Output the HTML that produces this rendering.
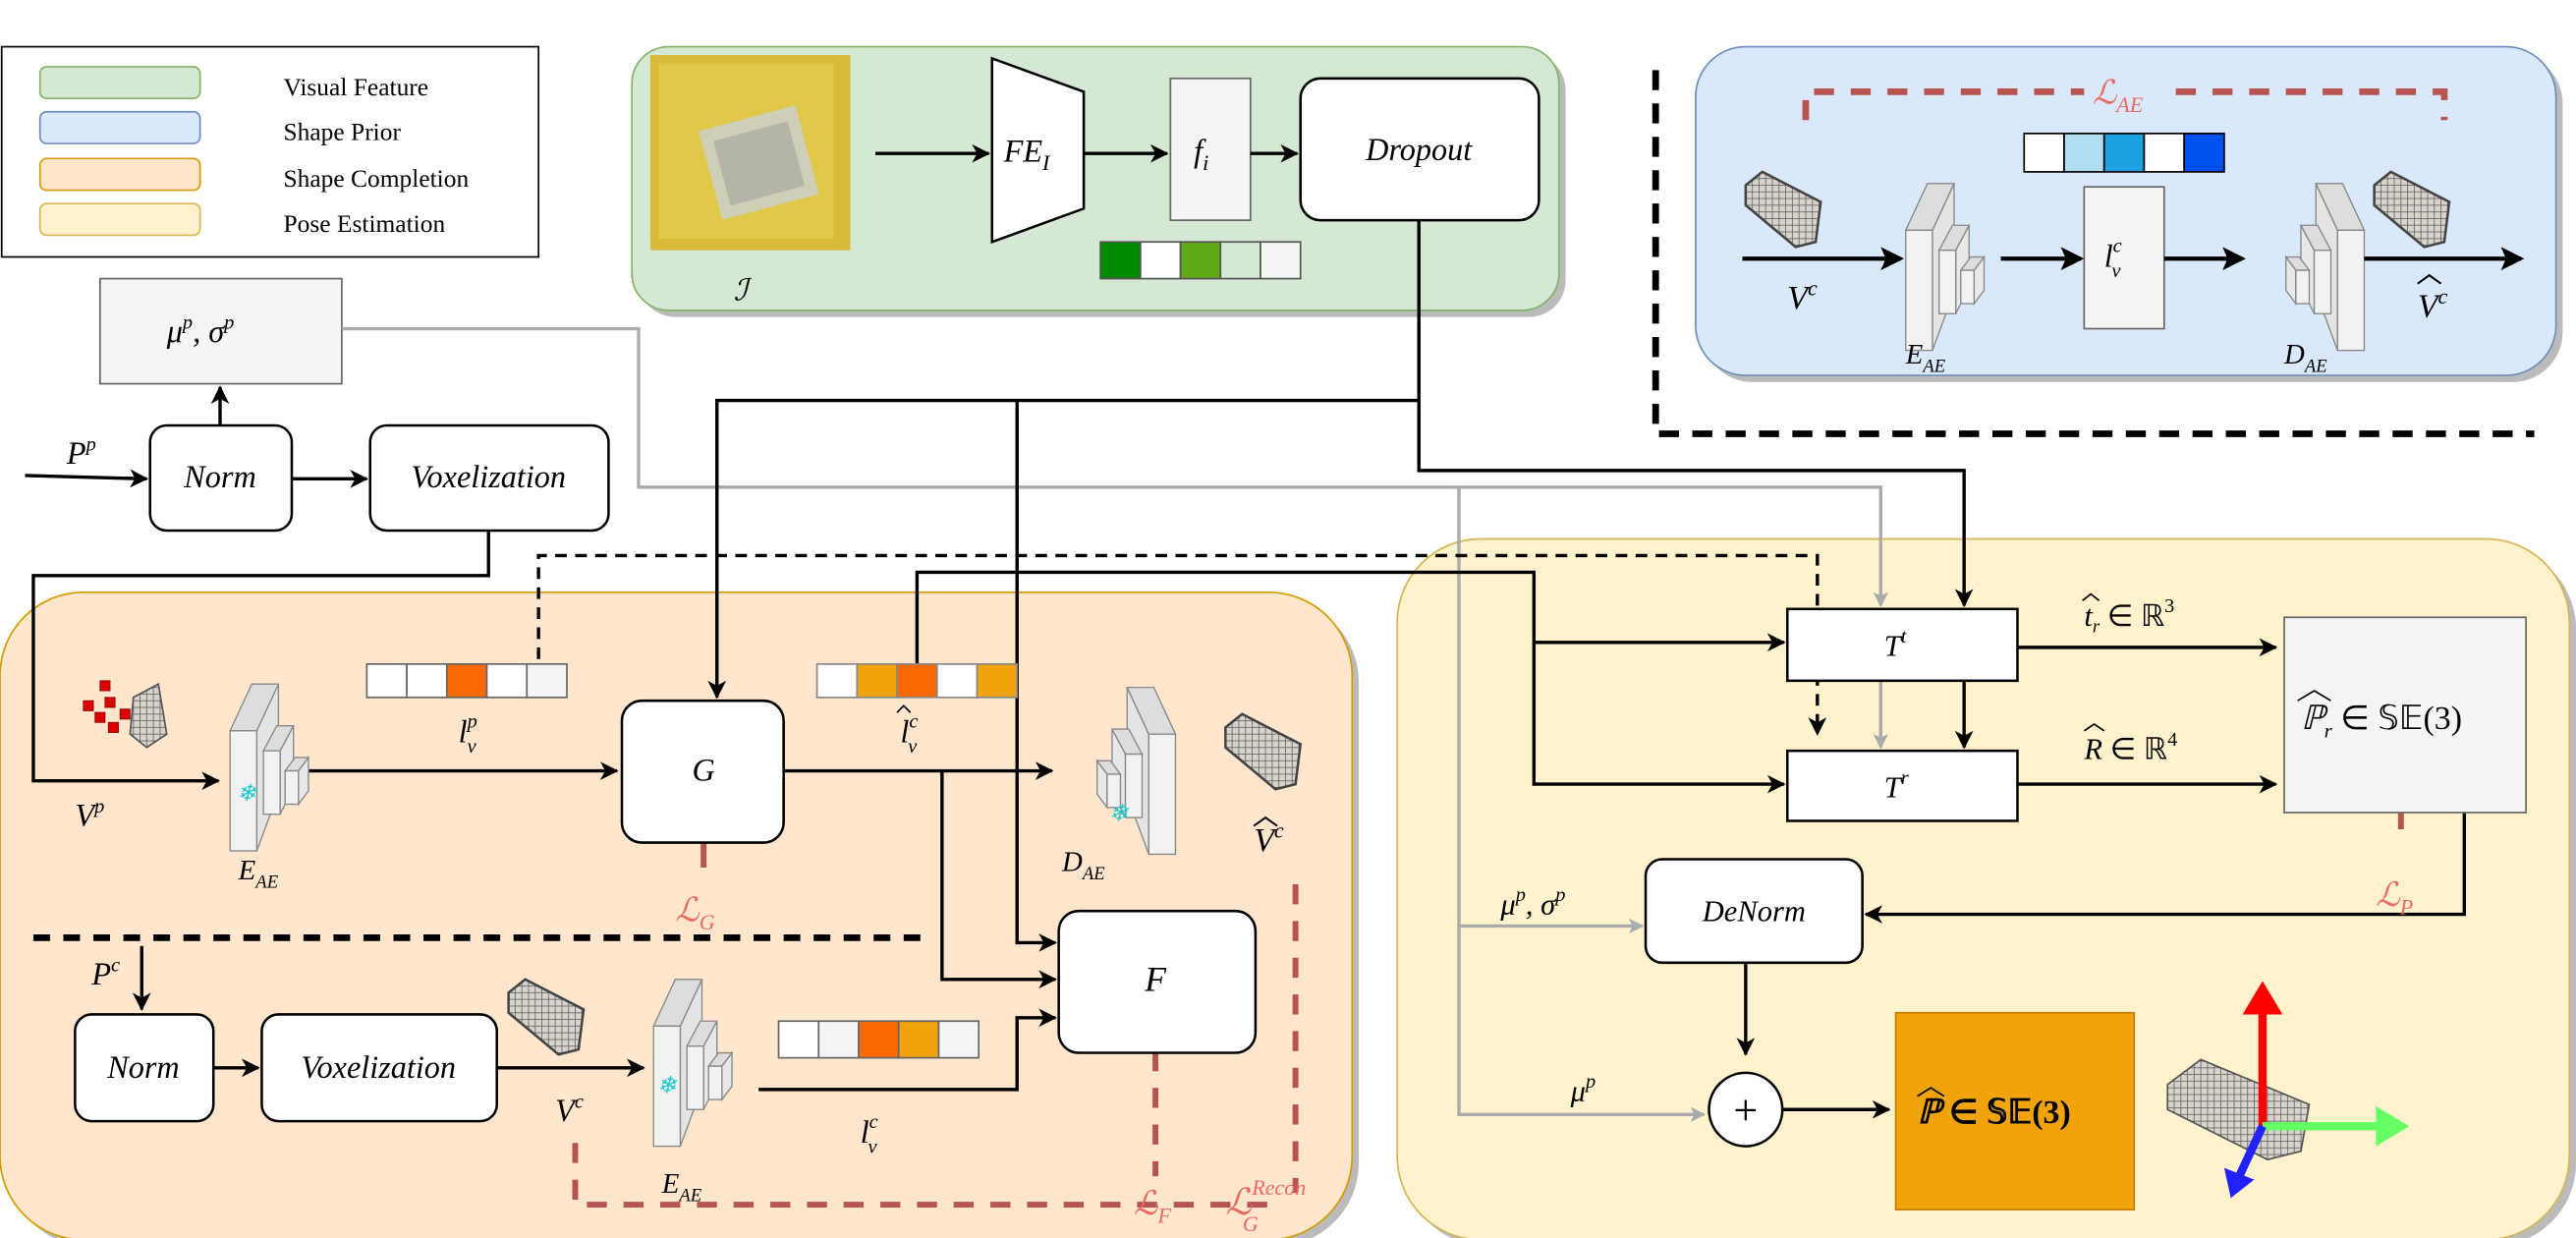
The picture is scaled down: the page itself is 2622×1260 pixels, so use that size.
<!DOCTYPE html>
<html><head><meta charset="utf-8"><style>
html,body{margin:0;padding:0;background:#fff}
svg{display:block}
text{font-family:"Liberation Serif",serif;font-style:italic}
.s{font-style:normal;font-family:"Liberation Serif",serif}
</style></head><body>
<svg width="2622" height="1260" viewBox="0 0 1545 742" preserveAspectRatio="none" xmlns="http://www.w3.org/2000/svg">
<defs>
<marker id="a" markerWidth="11" markerHeight="11" refX="10" refY="5.5" orient="auto" markerUnits="userSpaceOnUse"><path d="M0,0 L11,5.5 L0,11 L3,5.5z" fill="#000"/></marker>
<marker id="ag" markerWidth="9" markerHeight="9" refX="8" refY="4.5" orient="auto" markerUnits="userSpaceOnUse"><path d="M0,0 L9,4.5 L0,9 L2,4.5z" fill="#aaa"/></marker>
<marker id="ab" markerWidth="14" markerHeight="14" refX="12" refY="7" orient="auto" markerUnits="userSpaceOnUse"><path d="M0,0 L14,7 L0,14 L3,7z" fill="#000"/></marker>
<pattern id="vx" width="4" height="4" patternUnits="userSpaceOnUse"><rect width="4" height="4" fill="#d8d4cc" stroke="#666" stroke-width="0.5"/></pattern>
<g id="enc">
<polygon points="16,28 29,0 29,65 16,100" fill="#e4e4e4" stroke="#888" stroke-width="0.8"/>
<polygon points="0,28 13,0 29,0 16,28" fill="#ddd" stroke="#888" stroke-width="0.8"/>
<rect x="0" y="28" width="16" height="72" fill="#f2f2f2" stroke="#888" stroke-width="0.8"/>
<polygon points="30,40 38,25 38,62 30,78" fill="#e8e8e8" stroke="#888" stroke-width="0.8"/>
<polygon points="20,40 28,25 38,25 30,40" fill="#ddd" stroke="#888" stroke-width="0.8"/>
<rect x="20" y="40" width="10" height="38" fill="#f2f2f2" stroke="#888" stroke-width="0.8"/>
<polygon points="41,52 47,44 47,64 41,72" fill="#e8e8e8" stroke="#888" stroke-width="0.8"/>
<polygon points="33,52 39,44 47,44 41,52" fill="#ddd" stroke="#888" stroke-width="0.8"/>
<rect x="33" y="52" width="8" height="20" fill="#f2f2f2" stroke="#888" stroke-width="0.8"/>
</g>
<g id="vox"><polygon points="0,8 10,0 45,18 42,42 30,45 0,20" fill="url(#vx)" stroke="#444" stroke-width="1.5"/></g>
</defs>

<rect x="1" y="28" width="322" height="126" fill="#fff" stroke="#000"/>
<rect x="24" y="40" width="96" height="19" rx="4" fill="#d5e8d4" stroke="#82b366"/>
<rect x="24" y="67" width="96" height="19" rx="4" fill="#dae8fc" stroke="#6c8ebf"/>
<rect x="24" y="95" width="96" height="19" rx="4" fill="#ffe6cc" stroke="#d79b00"/>
<rect x="24" y="122" width="96" height="19" rx="4" fill="#fff2cc" stroke="#d6b656"/>
<g font-size="15"><text x="170" y="57" class="s">Visual Feature</text><text x="170" y="84" class="s">Shape Prior</text><text x="170" y="112" class="s">Shape Completion</text><text x="170" y="139" class="s">Pose Estimation</text></g>

<rect x="383" y="32" width="556" height="158" rx="22" fill="#bbb"/>
<rect x="379" y="28" width="556" height="158" rx="22" fill="#d5e8d4" stroke="#82b366"/>
<rect x="1021" y="32" width="516" height="197" rx="30" fill="#bbb"/>
<rect x="1017" y="28" width="516" height="197" rx="30" fill="#dae8fc" stroke="#6c8ebf"/>
<rect x="4" y="359" width="811" height="388" rx="50" fill="#bbb"/>
<rect x="0" y="355" width="811" height="388" rx="50" fill="#ffe6cc" stroke="#d79b00"/>
<rect x="842" y="327" width="703" height="420" rx="50" fill="#bbb"/>
<rect x="838" y="323" width="703" height="420" rx="50" fill="#fff2cc" stroke="#d6b656"/>

<path d="M993,42 V260 H1520" fill="none" stroke="#000" stroke-width="4" stroke-dasharray="12,8"/>

<rect x="390" y="33" width="120" height="117" fill="#d9bb3c"/>
<rect x="395" y="38" width="105" height="105" fill="#e0c848"/>
<rect x="425" y="70" width="60" height="55" fill="#cfcfb8" transform="rotate(-15 455 97)"/>
<rect x="432" y="78" width="46" height="40" fill="#999" opacity="0.5" transform="rotate(-15 455 97)"/>
<text x="440" y="180" font-size="18">ℐ</text>
<line x1="525" y1="92" x2="593" y2="92" stroke="#000" stroke-width="2" marker-end="url(#a)"/>
<polygon points="595,35 650,55 650,125 595,145" fill="#fff" stroke="#000" stroke-width="1.5"/>
<text x="602" y="97" font-size="19">FE<tspan font-size="13" dy="5">I</tspan></text>
<line x1="650" y1="92" x2="700" y2="92" stroke="#000" stroke-width="2" marker-end="url(#a)"/>
<rect x="702" y="47" width="48" height="85" fill="#f5f5f5" stroke="#666"/>
<text x="716" y="97" font-size="19">f<tspan font-size="13" dy="5">i</tspan></text>
<line x1="750" y1="92" x2="778" y2="92" stroke="#000" stroke-width="2" marker-end="url(#a)"/>
<rect x="780" y="47" width="143" height="85" rx="12" fill="#fff" stroke="#000" stroke-width="1.5"/>
<text x="851" y="96" font-size="19" text-anchor="middle">Dropout</text>
<g stroke="#555"><rect x="660" y="145" width="24" height="22" fill="#008a00"/><rect x="684" y="145" width="24" height="22" fill="#fff"/><rect x="708" y="145" width="24" height="22" fill="#60a917"/><rect x="732" y="145" width="24" height="22" fill="#d5e8d4"/><rect x="756" y="145" width="24" height="22" fill="#f5f5f5"/></g>

<path d="M1083,72 V55 H1250 M1305,55 H1466 V72" fill="none" stroke="#b85450" stroke-width="4" stroke-dasharray="12,10"/>
<text x="1255" y="62" font-size="20" fill="#ea6b66">ℒ<tspan font-size="13" dy="5">AE</tspan></text>
<g stroke="#000"><rect x="1214" y="80" width="24" height="23" fill="#fff"/><rect x="1238" y="80" width="24" height="23" fill="#b1ddf0"/><rect x="1262" y="80" width="24" height="23" fill="#1ba1e2"/><rect x="1286" y="80" width="24" height="23" fill="#fff"/><rect x="1310" y="80" width="24" height="23" fill="#0050ef"/></g>
<use href="#vox" x="1047" y="103"/>
<use href="#vox" x="1424" y="103"/>
<line x1="1045" y1="155" x2="1140" y2="155" stroke="#000" stroke-width="2.5" marker-end="url(#ab)"/>
<text x="1072" y="185" font-size="20">V<tspan font-size="13" dy="-8">c</tspan></text>
<use href="#enc" x="1143" y="110"/>
<line x1="1200" y1="155" x2="1248" y2="155" stroke="#000" stroke-width="2.5" marker-end="url(#ab)"/>
<rect x="1250" y="112" width="48" height="85" fill="#f5f5f5" stroke="#666"/>
<text x="1262" y="160" font-size="19">l<tspan font-size="12" dy="-9">c</tspan><tspan font-size="12" dx="-6" dy="15">v</tspan></text>
<line x1="1298" y1="155" x2="1345" y2="155" stroke="#000" stroke-width="2.5" marker-end="url(#ab)"/>
<use href="#enc" transform="translate(1418,110) scale(-1,1)"/>
<line x1="1418" y1="155" x2="1512" y2="155" stroke="#000" stroke-width="2.5" marker-end="url(#ab)"/>
<text x="1450" y="190" font-size="20">V<tspan font-size="13" dy="-8">c</tspan></text>
<path d="M1450,170 l7,-5 l7,5" fill="none" stroke="#000" stroke-width="1.2"/>
<text x="1143" y="218" font-size="17">E<tspan font-size="11" dy="5">AE</tspan></text>
<text x="1370" y="218" font-size="17">D<tspan font-size="11" dy="5">AE</tspan></text>

<rect x="60" y="167" width="145" height="63" fill="#f5f5f5" stroke="#666"/>
<text x="100" y="205" font-size="19">μ<tspan font-size="12" dy="-8">p</tspan><tspan dy="8">, σ</tspan><tspan font-size="12" dy="-8">p</tspan></text>
<line x1="15" y1="285" x2="88" y2="287" stroke="#000" stroke-width="2" marker-end="url(#a)"/>
<text x="40" y="278" font-size="19">P<tspan font-size="12" dy="-8">p</tspan></text>
<rect x="90" y="255" width="85" height="63" rx="10" fill="#fff" stroke="#000" stroke-width="1.5"/>
<text x="132" y="292" font-size="19" text-anchor="middle">Norm</text>
<line x1="132" y1="255" x2="132" y2="232" stroke="#000" stroke-width="2" marker-end="url(#a)"/>
<line x1="175" y1="287" x2="220" y2="287" stroke="#000" stroke-width="2" marker-end="url(#a)"/>
<rect x="222" y="255" width="143" height="63" rx="10" fill="#fff" stroke="#000" stroke-width="1.5"/>
<text x="293" y="292" font-size="19" text-anchor="middle">Voxelization</text>

<g fill="none" stroke="#aaa" stroke-width="2">
<path d="M205,197 H383 V292 H1128 V363" marker-end="url(#ag)"/>
<path d="M1128,408 V448" marker-end="url(#ag)"/>
<path d="M875,292 V668 H1022" marker-end="url(#ag)"/>
<path d="M875,555 H985" marker-end="url(#ag)"/>
</g>

<g fill="none" stroke="#000" stroke-width="2">
<path d="M851,132 V240 H430 V418" marker-end="url(#a)"/>
<path d="M610,240 V565 H633" marker-end="url(#a)"/>
<path d="M851,240 V282 H1178 V363" marker-end="url(#a)"/>
<path d="M1178,408 V448" marker-end="url(#a)"/>
<path d="M293,318 V345 H20 V468 H131" marker-end="url(#a)"/>
<path d="M550,398 V343 H920 V385 H1070" marker-end="url(#a)"/>
<path d="M920,385 V470 H1070" marker-end="url(#a)"/>
<path d="M470,462 H631" marker-end="url(#a)"/>
<path d="M565,462 V587 H633" marker-end="url(#a)"/>
<path d="M455,653 H610 V610 H633" marker-end="url(#a)"/>
<path d="M183,462 H370" marker-end="url(#a)"/>
<path d="M298,640 H386" marker-end="url(#a)"/>
<path d="M128,640 H155" marker-end="url(#a)"/>
<path d="M85,567 V605" marker-end="url(#a)"/>
<path d="M1210,388 H1365" marker-end="url(#a)"/>
<path d="M1210,470 H1365" marker-end="url(#a)"/>
<path d="M1478,487 V548 H1119" marker-end="url(#a)"/>
<path d="M1047,577 V632" marker-end="url(#a)"/>
<path d="M1069,665 H1133" marker-end="url(#a)"/>
</g>
<path d="M323,395 V333 H1090 V440" fill="none" stroke="#000" stroke-width="2" stroke-dasharray="7,5" marker-end="url(#a)"/>
<path d="M20,562 H555" fill="none" stroke="#000" stroke-width="4" stroke-dasharray="10,8"/>

<g fill="none" stroke="#b85450" stroke-width="3.5">
<path d="M422,505 V520"/>
<path d="M1440,487 V505" stroke-dasharray="10,8"/>
<path d="M693,630 V705" stroke-dasharray="12,10"/>
<path d="M777,530 V715" stroke-dasharray="12,10"/>
<path d="M345,685 V722 H760" stroke-dasharray="12,10"/>
</g>
<text x="405" y="552" font-size="20" fill="#ea6b66">ℒ<tspan font-size="13" dy="5">G</tspan></text>
<text x="1425" y="543" font-size="20" fill="#ea6b66">ℒ<tspan font-size="13" dy="5">P</tspan></text>
<text x="680" y="728" font-size="20" fill="#ea6b66">ℒ<tspan font-size="13" dy="5">F</tspan></text>
<text x="735" y="728" font-size="22" fill="#ea6b66">ℒ<tspan font-size="13" dy="-12">Recon</tspan><tspan font-size="13" dx="-38" dy="22">G</tspan></text>

<g fill="#d00" stroke="#800" stroke-width="0.5"><rect x="50" y="420" width="6" height="6"/><rect x="57" y="427" width="6" height="6"/><rect x="63" y="418" width="6" height="6"/><rect x="65" y="433" width="6" height="6"/><rect x="72" y="425" width="6" height="6"/><rect x="60" y="408" width="6" height="6"/></g>
<polygon points="80,418 95,410 100,440 88,448 78,440" fill="url(#vx)" stroke="#555"/>
<use href="#enc" x="138" y="410"/>
<text x="142" y="480" font-size="14" fill="#19c9d0">❄</text>
<text x="45" y="495" font-size="19">V<tspan font-size="12" dy="-8">p</tspan></text>
<text x="143" y="527" font-size="17">E<tspan font-size="11" dy="5">AE</tspan></text>
<g stroke="#666"><rect x="220" y="398" width="24" height="20" fill="#fff"/><rect x="244" y="398" width="24" height="20" fill="#fff"/><rect x="268" y="398" width="24" height="20" fill="#fa6800"/><rect x="292" y="398" width="24" height="20" fill="#fff"/><rect x="316" y="398" width="24" height="20" fill="#f5f5f5"/></g>
<text x="275" y="445" font-size="19">l<tspan font-size="12" dy="-9">p</tspan><tspan font-size="12" dx="-6" dy="15">v</tspan></text>
<rect x="373" y="420" width="97" height="85" rx="12" fill="#fff" stroke="#000" stroke-width="1.5"/>
<text x="422" y="468" font-size="19" text-anchor="middle">G</text>
<g stroke="#888"><rect x="490" y="398" width="24" height="20" fill="#fff"/><rect x="514" y="398" width="24" height="20" fill="#f0a30a"/><rect x="538" y="398" width="24" height="20" fill="#fa6800"/><rect x="562" y="398" width="24" height="20" fill="#fff"/><rect x="586" y="398" width="24" height="20" fill="#f0a30a"/></g>
<text x="540" y="445" font-size="19">l<tspan font-size="12" dy="-9">c</tspan><tspan font-size="12" dx="-6" dy="15">v</tspan></text>
<path d="M538,427 l4,-4 l4,4" fill="none" stroke="#000"/>
<use href="#enc" transform="translate(705,412) scale(-1,1)"/>
<text x="665" y="492" font-size="14" fill="#19c9d0">❄</text>
<text x="637" y="522" font-size="17">D<tspan font-size="11" dy="5">AE</tspan></text>
<use href="#vox" x="735" y="428"/>
<text x="752" y="510" font-size="20">V<tspan font-size="13" dy="-8">c</tspan></text>
<path d="M752,495 l7,-5 l7,5" fill="none" stroke="#000" stroke-width="1.2"/>
<rect x="635" y="546" width="118" height="85" rx="12" fill="#fff" stroke="#000" stroke-width="1.5"/>
<text x="693" y="594" font-size="21" text-anchor="middle">F</text>
<text x="55" y="590" font-size="19">P<tspan font-size="12" dy="-8">c</tspan></text>
<rect x="45" y="608" width="83" height="64" rx="10" fill="#fff" stroke="#000" stroke-width="1.5"/>
<text x="86" y="646" font-size="19" text-anchor="middle">Norm</text>
<rect x="157" y="608" width="141" height="64" rx="10" fill="#fff" stroke="#000" stroke-width="1.5"/>
<text x="227" y="646" font-size="19" text-anchor="middle">Voxelization</text>
<use href="#vox" x="305" y="587"/>
<text x="333" y="672" font-size="19">V<tspan font-size="12" dy="-8">c</tspan></text>
<use href="#enc" x="392" y="587"/>
<text x="394" y="655" font-size="14" fill="#19c9d0">❄</text>
<text x="397" y="715" font-size="17">E<tspan font-size="11" dy="5">AE</tspan></text>
<g stroke="#666"><rect x="467" y="612" width="24" height="22" fill="#fff"/><rect x="491" y="612" width="24" height="22" fill="#f5f5f5"/><rect x="515" y="612" width="24" height="22" fill="#fa6800"/><rect x="539" y="612" width="24" height="22" fill="#f0a30a"/><rect x="563" y="612" width="24" height="22" fill="#f5f5f5"/></g>
<text x="516" y="685" font-size="19">l<tspan font-size="12" dy="-9">c</tspan><tspan font-size="12" dx="-6" dy="15">v</tspan></text>

<rect x="1072" y="365" width="138" height="43" fill="#fff" stroke="#000" stroke-width="1.5"/>
<text x="1130" y="393" font-size="18">T<tspan font-size="12" dy="-8">t</tspan></text>
<rect x="1072" y="450" width="138" height="42" fill="#fff" stroke="#000" stroke-width="1.5"/>
<text x="1130" y="478" font-size="18">T<tspan font-size="12" dy="-8">r</tspan></text>
<text x="1250" y="375" font-size="18">t<tspan font-size="11" dy="4">r</tspan><tspan class="s" dy="-4"> ∈ ℝ</tspan><tspan class="s" font-size="12" dy="-8">3</tspan></text>
<path d="M1249,360 l5,-4 l5,4" fill="none" stroke="#000"/>
<text x="1250" y="455" font-size="18">R<tspan class="s"> ∈ ℝ</tspan><tspan class="s" font-size="12" dy="-8">4</tspan></text>
<path d="M1250,438 l6,-4 l6,4" fill="none" stroke="#000"/>
<rect x="1370" y="370" width="145" height="117" fill="#f5f5f5" stroke="#666"/>
<text x="1380" y="437" font-size="20">ℙ<tspan font-size="12" dy="5">r</tspan><tspan class="s" dy="-5"> ∈ 𝕊𝔼(3)</tspan></text>
<path d="M1378,420 l10,-6 l10,6" fill="none" stroke="#000"/>
<text x="900" y="548" font-size="18">μ<tspan font-size="12" dy="-8">p</tspan><tspan dy="8">, σ</tspan><tspan font-size="12" dy="-8">p</tspan></text>
<rect x="987" y="515" width="130" height="62" rx="10" fill="#fff" stroke="#000" stroke-width="1.5"/>
<text x="1052" y="552" font-size="18" text-anchor="middle">DeNorm</text>
<text x="942" y="660" font-size="18">μ<tspan font-size="12" dy="-8">p</tspan></text>
<circle cx="1047" cy="665" r="22" fill="#fff" stroke="#000" stroke-width="1.5"/>
<text x="1047" y="674" font-size="26" text-anchor="middle" class="s">+</text>
<rect x="1137" y="607" width="143" height="118" fill="#f0a30a" stroke="#c47e00"/>
<text x="1150" y="673" font-size="20" font-weight="bold">ℙ<tspan class="s" font-weight="bold"> ∈ 𝕊𝔼(3)</tspan></text>
<path d="M1150,657 l8,-5 l8,5" fill="none" stroke="#000"/>
<polygon points="1300,650 1320,635 1385,662 1380,690 1360,695 1300,665" fill="url(#vx)" stroke="#555"/>
<line x1="1357" y1="675" x2="1357" y2="600" stroke="#f00" stroke-width="5"/>
<polygon points="1345,608 1357,588 1369,608" fill="#f00"/>
<line x1="1357" y1="675" x2="1430" y2="675" stroke="#6f6" stroke-width="5"/>
<polygon points="1425,663 1445,675 1425,687" fill="#6f6"/>
<line x1="1357" y1="675" x2="1343" y2="705" stroke="#22f" stroke-width="5"/>
<polygon points="1334,700 1338,718 1352,707" fill="#22f"/>
</svg>
</body></html>
